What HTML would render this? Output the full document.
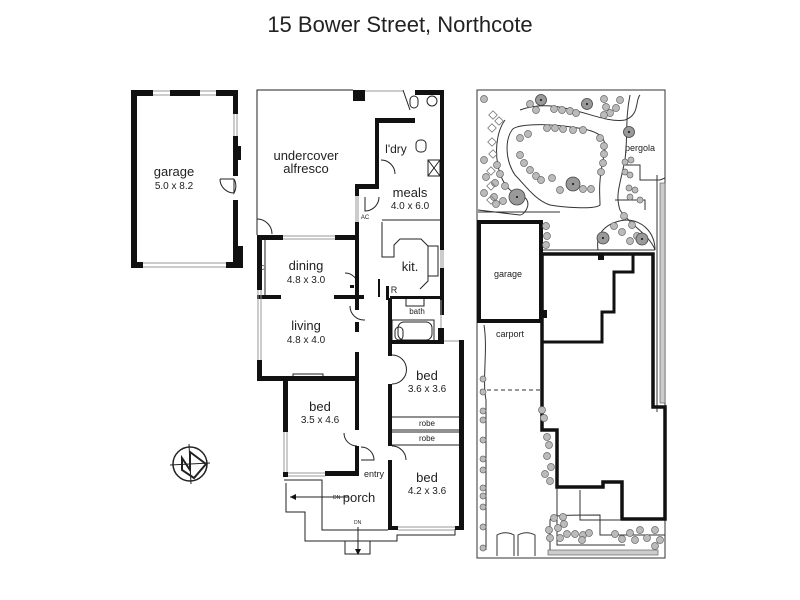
<!DOCTYPE html>
<html><head><meta charset="utf-8"><style>
html,body{margin:0;padding:0;background:#fff}
svg{display:block}
text{font-family:"Liberation Sans",sans-serif;fill:#222}
</style></head><body>
<svg width="800" height="600" viewBox="0 0 800 600" xmlns="http://www.w3.org/2000/svg">
<rect width="800" height="600" fill="#fff"/>
<text x="400" y="32" font-size="22" text-anchor="middle">15 Bower Street, Northcote</text>

<!-- GARAGE -->
<g fill="#111">
<rect x="131" y="90" width="6" height="178"/>
<rect x="131" y="90" width="22" height="6"/>
<rect x="170" y="90" width="30" height="6"/>
<rect x="216" y="90" width="22" height="6"/>
<rect x="233" y="90" width="5" height="24"/>
<rect x="233" y="136" width="5" height="40"/>
<rect x="236" y="146" width="5" height="14"/>
<rect x="233" y="200" width="5" height="50"/>
<rect x="233" y="246" width="10" height="22"/>
<rect x="131" y="262" width="12" height="6"/>
<rect x="226" y="262" width="17" height="6"/>
</g>
<g stroke="#999" fill="none" stroke-width="1">
<line x1="153" y1="91" x2="170" y2="91"/><line x1="153" y1="95" x2="170" y2="95"/>
<line x1="200" y1="91" x2="216" y2="91"/><line x1="200" y1="95" x2="216" y2="95"/>
<line x1="234" y1="114" x2="234" y2="136"/><line x1="237" y1="114" x2="237" y2="136"/>
<line x1="143" y1="263" x2="226" y2="263"/><line x1="143" y1="267" x2="226" y2="267"/>
</g>
<path d="M234 179 A 14 14 0 0 1 234 193 L234 179" stroke="#222" fill="none"/>
<path d="M220 179 A14 14 0 0 0 234 193" stroke="#222" fill="none"/>
<line x1="220" y1="179" x2="234" y2="179" stroke="#222"/>
<text x="174" y="176" font-size="13" text-anchor="middle">garage</text>
<text x="174" y="189" font-size="10" text-anchor="middle">5.0 x 8.2</text>

<!-- HOUSE thin lines -->
<g stroke="#222" fill="none" stroke-width="1">
<polyline points="257,235 257,90 353,90"/>
<path d="M257 219 A15 15 0 0 1 272 234"/>
<line x1="257" y1="219" x2="257" y2="235"/>
<line x1="403" y1="90" x2="410" y2="110"/>
<polyline points="382,222 382,257 394,257 394,245 400,239 421,239 428,246 428,281 420,289"/>
<line x1="382" y1="220" x2="440" y2="220"/>
<path d="M379 197 A14 14 0 0 1 365 211 L365 197"/>
<path d="M381 160 A14 14 0 0 1 395 174"/>
<path d="M358 286 A13 13 0 0 0 345 273"/>
<path d="M350 306 A14 14 0 0 0 365 320"/>
<path d="M392 355 A14 14 0 0 1 392 384"/>
<path d="M344 433 A13 13 0 0 0 357 446"/>
<path d="M361 447 A13 13 0 0 1 374 460 L361 460"/>
<path d="M392 446 A14 14 0 0 1 406 460"/>
<line x1="392" y1="417" x2="462" y2="417"/><line x1="392" y1="430" x2="462" y2="430"/>
<line x1="392" y1="432" x2="462" y2="432"/><line x1="392" y1="445" x2="462" y2="445"/>
<line x1="265" y1="240" x2="265" y2="296"/>
<polyline points="284,480 322,480 322,530 388,530"/>
<polyline points="286,483 286,512 305,512 305,541 397,541 397,535 455,535 455,529"/>
<polyline points="345,541 345,554 370,554 370,541"/>
<rect x="398" y="322" width="34" height="18" rx="6"/>
<rect x="392" y="320" width="42" height="22"/>
<line x1="348" y1="497" x2="290" y2="497"/>
<line x1="358" y1="527" x2="358" y2="553"/>
<rect x="410" y="96" width="8" height="12" rx="4"/>
<circle cx="432" cy="101" r="5"/>
<rect x="416" y="140" width="10" height="12" rx="4"/>
<rect x="428" y="160" width="12" height="16"/>
<line x1="428" y1="160" x2="440" y2="176"/><line x1="440" y1="160" x2="428" y2="176"/>
<rect x="395" y="327" width="8" height="13" rx="4"/>
<rect x="293" y="374" width="30" height="4"/>
<rect x="406" y="298" width="18" height="8"/>
<rect x="428" y="246" width="10" height="30"/>
</g>
<!-- arrows -->
<path d="M290 497 l6 -3 l0 6 z M358 555 l-3 -6 l6 0 z" fill="#111"/>
<text x="333" y="499" font-size="5">DN</text>
<text x="354" y="524" font-size="5">DN</text>

<!-- HOUSE thick walls -->
<g fill="#111">
<rect x="353" y="90" width="12" height="11"/>
<rect x="415" y="90" width="29" height="5"/>
<rect x="440" y="90" width="4" height="160"/>
<rect x="440" y="268" width="4" height="47"/>
<rect x="438" y="328" width="6" height="14"/>
<rect x="375" y="118" width="40" height="5"/>
<rect x="375" y="118" width="4" height="70"/>
<rect x="355" y="184" width="24" height="5"/>
<rect x="355" y="184" width="4" height="12"/>
<rect x="355" y="222" width="4" height="78"/>
<rect x="257" y="235" width="26" height="5"/>
<rect x="335" y="235" width="24" height="5"/>
<rect x="257" y="235" width="5" height="55"/>
<rect x="257" y="360" width="5" height="20"/>
<rect x="257" y="295" width="24" height="4"/>
<rect x="334" y="295" width="30" height="4"/>
<rect x="390" y="296" width="54" height="3"/>
<rect x="386" y="286" width="3" height="14"/>
<rect x="378" y="279" width="2" height="18"/>
<rect x="257" y="376" width="102" height="5"/>
<rect x="355" y="296" width="4" height="14"/>
<rect x="355" y="322" width="4" height="10"/>
<rect x="355" y="352" width="4" height="78"/>
<rect x="355" y="446" width="4" height="30"/>
<rect x="283" y="376" width="5" height="56"/>
<rect x="325" y="471" width="34" height="5"/>
<rect x="283" y="472" width="5" height="5"/>
<rect x="388" y="298" width="4" height="58"/>
<rect x="388" y="384" width="4" height="62"/>
<rect x="388" y="460" width="4" height="70"/>
<rect x="388" y="340" width="56" height="4"/>
<rect x="459" y="340" width="5" height="188"/>
<rect x="388" y="526" width="10" height="4"/>
<rect x="455" y="526" width="9" height="4"/>
<rect x="350" y="285" width="4" height="3"/>
</g>
<g stroke="#999" fill="none">
<line x1="283" y1="236" x2="335" y2="236"/><line x1="283" y1="239" x2="335" y2="239"/>
<line x1="258" y1="290" x2="258" y2="360"/><line x1="261" y1="290" x2="261" y2="360"/>
<line x1="365" y1="91" x2="403" y2="91"/>
<line x1="356" y1="196" x2="356" y2="222"/><line x1="358" y1="196" x2="358" y2="222"/>
<line x1="284" y1="432" x2="284" y2="472"/><line x1="287" y1="432" x2="287" y2="472"/>
<line x1="288" y1="473" x2="325" y2="473"/><line x1="288" y1="476" x2="325" y2="476"/>
<line x1="398" y1="527" x2="455" y2="527"/><line x1="398" y1="530" x2="455" y2="530"/>
<line x1="441" y1="250" x2="441" y2="268"/><line x1="443" y1="250" x2="443" y2="268"/>
<line x1="444" y1="341" x2="459" y2="341"/>
<line x1="441" y1="300" x2="441" y2="328"/>
</g>
<g font-size="13" text-anchor="middle">
<text x="306" y="160">undercover</text><text x="306" y="173">alfresco</text>
<text x="396" y="153" font-size="12">l'dry</text>
<text x="410" y="197">meals</text>
<text x="410" y="271">kit.</text>
<text x="306" y="270">dining</text>
<text x="306" y="330">living</text>
<text x="320" y="411">bed</text>
<text x="427" y="380">bed</text>
<text x="427" y="482">bed</text>
<text x="359" y="502">porch</text>
</g>
<g font-size="10" text-anchor="middle">
<text x="410" y="209">4.0 x 6.0</text>
<text x="306" y="283">4.8 x 3.0</text>
<text x="306" y="343">4.8 x 4.0</text>
<text x="320" y="423">3.5 x 4.6</text>
<text x="427" y="392">3.6 x 3.6</text>
<text x="427" y="494">4.2 x 3.6</text>
<text x="427" y="426" font-size="8">robe</text>
<text x="427" y="441" font-size="8">robe</text>
<text x="374" y="477" font-size="9">entry</text>
<text x="417" y="314" font-size="8">bath</text>
<text x="394" y="293" font-size="9">R</text>
<text x="262" y="270" font-size="7">C</text>
<text x="365" y="219" font-size="6">AC</text>
</g>

<!-- COMPASS -->
<g stroke="#222" fill="none">
<circle cx="190" cy="464" r="17" stroke-width="1.5"/>
<line x1="170" y1="465" x2="210" y2="463"/>
<line x1="189" y1="444" x2="191" y2="484"/>
<path d="M182 470 L182 458 L190 470 L190 452 L206 464 L194 478 Z" stroke-width="2"/>
</g>

<!-- SITE PLAN -->
<g stroke="#333" fill="none" stroke-width="1">
<rect x="477" y="90" width="188" height="468"/>
<path d="M520 110 C560 95 600 125 625 120 C640 115 635 100 640 95 M505 120 C490 140 495 190 520 195 C535 200 525 215 520 215 L478 210"/>
<path d="M512 130 C515 125 540 122 578 128 C605 132 608 140 603 160 C598 185 600 195 600 205 C595 210 560 207 550 205 C535 200 525 185 515 175 C505 160 505 140 512 130 Z"/>
<path d="M630 95 C625 120 628 135 625 160 C620 185 615 195 620 210 C630 225 650 235 655 250"/>
<polyline points="625,165 640,165 640,180 660,180 665,178"/>
<line x1="657" y1="175" x2="657" y2="412"/>
<line x1="478" y1="212" x2="560" y2="212"/>
<line x1="542" y1="250" x2="655" y2="250"/>
<path d="M598 250 C595 230 610 222 625 220 C645 220 655 235 655 250"/>
<polyline points="615,200 645,200 645,210"/>
<line x1="480" y1="390" x2="542" y2="390" stroke-dasharray="4,3"/>
<path d="M484 325 C488 350 482 380 486 400 L486 550"/>
<polyline points="557,487 557,545 625,545"/>
<polyline points="580,490 580,520 620,520"/>
<path d="M550 552 L550 520 C552 515 560 515 600 515 L600 535 L665 535"/>
<path d="M497 556 L497 535 A17 17 0 0 1 514 535 L514 556 M518 556 L518 535 A17 17 0 0 1 535 535 L535 556"/>
</g>
<g fill="#111">
<rect x="477" y="220" width="66" height="4"/>
<rect x="477" y="220" width="4" height="103"/>
<rect x="477" y="319" width="66" height="4"/>
<rect x="539" y="220" width="4" height="103"/>
<rect x="539" y="310" width="8" height="8"/>
<rect x="598" y="254" width="6" height="6"/>
</g>
<polyline points="542,254 653,254 653,407 665,407 665,519 622,519 622,482 603,482 603,487 557,487 557,430 542,430 542,254" fill="none" stroke="#111" stroke-width="3.5"/>
<polyline points="633,254 633,272 614,272 614,312 602,312 602,342 542,342" fill="none" stroke="#111" stroke-width="3"/>
<text x="508" y="277" font-size="9" text-anchor="middle">garage</text>
<text x="510" y="337" font-size="9" text-anchor="middle">carport</text>
<text x="640" y="151" font-size="9" text-anchor="middle">pergola</text>

<!-- shrubs -->
<g fill="#bbb" stroke="#666" stroke-width="0.7">
<circle cx="484" cy="99" r="3.5"/><circle cx="530" cy="104" r="3.5"/><circle cx="536" cy="110" r="3.5"/><circle cx="554" cy="109" r="3.5"/><circle cx="562" cy="110" r="3.5"/><circle cx="570" cy="111" r="3.5"/><circle cx="576" cy="113" r="3.5"/><circle cx="604" cy="99" r="3.5"/><circle cx="606" cy="107" r="3.5"/><circle cx="610" cy="113" r="3.5"/><circle cx="616" cy="108" r="3.5"/><circle cx="620" cy="100" r="3.5"/><circle cx="604" cy="115" r="3.5"/>
<circle cx="547" cy="128" r="3.5"/><circle cx="555" cy="128" r="3.5"/><circle cx="563" cy="129" r="3.5"/><circle cx="573" cy="130" r="3.5"/><circle cx="583" cy="130" r="3.5"/><circle cx="520" cy="138" r="3.5"/><circle cx="528" cy="134" r="3.5"/><circle cx="600" cy="138" r="3.5"/><circle cx="604" cy="146" r="3.5"/><circle cx="604" cy="154" r="3.5"/><circle cx="603" cy="163" r="3.5"/><circle cx="601" cy="172" r="3.5"/><circle cx="520" cy="155" r="3.5"/><circle cx="524" cy="163" r="3.5"/><circle cx="530" cy="170" r="3.5"/><circle cx="536" cy="176" r="3.5"/><circle cx="541" cy="180" r="3.5"/><circle cx="552" cy="178" r="3.5"/><circle cx="560" cy="190" r="3.5"/><circle cx="583" cy="189" r="3.5"/><circle cx="591" cy="189" r="3.5"/>
<circle cx="484" cy="160" r="3.5"/><circle cx="497" cy="165" r="3.5"/><circle cx="500" cy="174" r="3.5"/><circle cx="486" cy="177" r="3.5"/><circle cx="495" cy="183" r="3.5"/><circle cx="505" cy="186" r="3.5"/><circle cx="484" cy="193" r="3.5"/><circle cx="494" cy="197" r="3.5"/><circle cx="503" cy="201" r="3.5"/><circle cx="496" cy="204" r="3.5"/>
<circle cx="546" cy="226" r="3.5"/><circle cx="547" cy="236" r="3.5"/><circle cx="546" cy="245" r="3.5"/><circle cx="632" cy="225" r="3.5"/><circle cx="614" cy="226" r="3.5"/><circle cx="622" cy="232" r="3.5"/><circle cx="637" cy="236" r="3.5"/><circle cx="630" cy="241" r="3.5"/><circle cx="624" cy="216" r="3.5"/>
<circle cx="625" cy="162" r="3"/><circle cx="631" cy="160" r="3"/><circle cx="625" cy="172" r="3"/><circle cx="630" cy="175" r="3"/><circle cx="629" cy="188" r="3"/><circle cx="635" cy="190" r="3"/><circle cx="630" cy="197" r="3"/><circle cx="640" cy="200" r="3"/>
</g>
<g fill="#bbb" stroke="#666" stroke-width="0.7">
<circle cx="542" cy="410" r="3.5"/><circle cx="544" cy="418" r="3.5"/><circle cx="547" cy="437" r="3.5"/><circle cx="549" cy="445" r="3.5"/><circle cx="547" cy="456" r="3.5"/><circle cx="551" cy="467" r="3.5"/><circle cx="545" cy="474" r="3.5"/><circle cx="550" cy="481" r="3.5"/>
<circle cx="483" cy="379" r="3"/><circle cx="483" cy="392" r="3"/><circle cx="483" cy="411" r="3"/><circle cx="483" cy="420" r="3"/><circle cx="483" cy="440" r="3"/><circle cx="483" cy="459" r="3"/><circle cx="483" cy="470" r="3"/><circle cx="483" cy="488" r="3"/><circle cx="483" cy="496" r="3"/><circle cx="483" cy="507" r="3"/><circle cx="483" cy="527" r="3"/><circle cx="483" cy="548" r="3"/>
<circle cx="554" cy="518" r="3.5"/><circle cx="563" cy="517" r="3.5"/><circle cx="564" cy="524" r="3.5"/><circle cx="558" cy="528" r="3.5"/><circle cx="549" cy="530" r="3.5"/><circle cx="567" cy="534" r="3.5"/><circle cx="575" cy="534" r="3.5"/><circle cx="583" cy="535" r="3.5"/><circle cx="589" cy="533" r="3.5"/><circle cx="560" cy="538" r="3.5"/><circle cx="550" cy="538" r="3.5"/><circle cx="582" cy="540" r="3.5"/>
<circle cx="615" cy="534" r="3.5"/><circle cx="622" cy="539" r="3.5"/><circle cx="630" cy="533" r="3.5"/><circle cx="635" cy="540" r="3.5"/><circle cx="640" cy="530" r="3.5"/><circle cx="647" cy="538" r="3.5"/><circle cx="655" cy="530" r="3.5"/><circle cx="660" cy="540" r="3.5"/><circle cx="655" cy="546" r="3.5"/>
</g>
<g fill="#ccc" stroke="#666" stroke-width="0.7">
<rect x="660" y="183" width="5" height="220"/>
<rect x="548" y="550" width="110" height="5"/>
</g>
<g fill="none" stroke="#777" stroke-width="0.8">
<rect x="490" y="112" width="6" height="6" transform="rotate(45 493 115)"/>
<rect x="496" y="118" width="6" height="6" transform="rotate(45 499 121)"/>
<rect x="489" y="125" width="6" height="6" transform="rotate(45 492 128)"/>
<rect x="489" y="139" width="6" height="6" transform="rotate(45 492 142)"/>
<rect x="490" y="151" width="6" height="6" transform="rotate(45 493 154)"/>
<rect x="488" y="168" width="6" height="6" transform="rotate(45 491 171)"/>
<rect x="488" y="183" width="6" height="6" transform="rotate(45 491 186)"/>
<rect x="488" y="197" width="6" height="6" transform="rotate(45 491 200)"/>
</g>
<g fill="#999" stroke="#444" stroke-width="0.8">
<circle cx="541" cy="100" r="5.5"/><circle cx="587" cy="104" r="5.5"/><circle cx="629" cy="132" r="5.5"/><circle cx="573" cy="184" r="7"/><circle cx="517" cy="197" r="8"/><circle cx="603" cy="238" r="6"/><circle cx="642" cy="239" r="6"/>
</g>
<g fill="#111">
<circle cx="541" cy="100" r="1"/><circle cx="587" cy="104" r="1"/><circle cx="629" cy="132" r="1"/><circle cx="573" cy="184" r="1"/><circle cx="517" cy="197" r="1"/><circle cx="603" cy="238" r="1"/><circle cx="642" cy="239" r="1"/>
</g>
</svg>
</body></html>
